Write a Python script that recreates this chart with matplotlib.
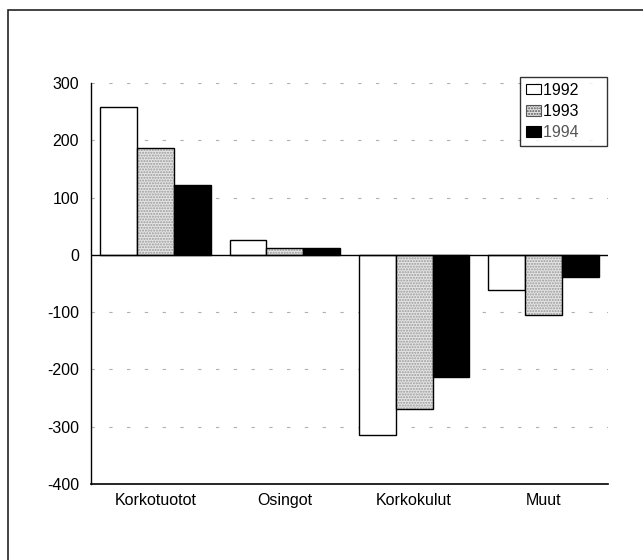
import numpy as np
import matplotlib.pyplot as plt
from matplotlib.patches import Rectangle

plt.rcParams['font.family'] = ['Liberation Sans', 'DejaVu Sans']
plt.rcParams['axes.unicode_minus'] = False

# data
categories = ["Korkotuotot", "Osingot", "Korkokulut", "Muut"]
years = ["1992", "1993", "1994"]
v1992 = [258, 26, -314, -61]
v1993 = [187, 12, -269, -105]
v1994 = [122, 12, -213, -38]
yticks = [-400, -300, -200, -100, 0, 100, 200, 300]

fig = plt.figure(figsize=(6.43, 5.6), dpi=100)
ax = fig.add_axes([0.1415, 0.1357, 0.8041, 0.7161])

# outer frame of the page
fig.patches.append(Rectangle((8 / 643, -0.05), 1.0, 1 - 10 / 560 + 0.05,
                             transform=fig.transFigure, fill=False,
                             edgecolor="#222222", linewidth=1.2))

x = np.arange(len(categories))
w = 0.285
offs = [-w, 0, w]

ax.bar(x + offs[0], v1992, w, color="white", edgecolor="black", linewidth=1.0, zorder=3)
# dotted grey fill for 1993, then outline on top
ax.bar(x + offs[1], v1993, w, color="#e4e4e4", edgecolor="#9a9a9a", hatch="......",
       linewidth=0, zorder=3)
ax.bar(x + offs[1], v1993, w, fill=False, edgecolor="black", linewidth=1.0, zorder=4)
ax.bar(x + offs[2], v1994, w, color="black", edgecolor="black", linewidth=1.0, zorder=3)

ax.axhline(0, color="black", linewidth=1.0, zorder=5)
for t in yticks:
    if t not in (0, -400):
        ax.axhline(t, color="#b0b0b0", linewidth=0.8, linestyle=(0, (3, 13)), zorder=1)

ax.set_xlim(-0.5, 3.5)
ax.set_ylim(-400, 300)
ax.set_yticks(yticks)
ax.set_xticks(x)
ax.set_xticklabels(categories)
ax.tick_params(length=0)
ax.tick_params(axis="y", pad=8.5, labelsize=11.5)
ax.tick_params(axis="x", pad=6.5, labelsize=11.5)
for s in ["top", "right"]:
    ax.spines[s].set_visible(False)
ax.spines["left"].set_linewidth(1.0)
ax.spines["bottom"].set_linewidth(1.2)

# legend
h1 = Rectangle((0, 0), 1, 1, facecolor="white", edgecolor="black", linewidth=0.8)
h2 = Rectangle((0, 0), 1, 1, facecolor="#e4e4e4", edgecolor="#555555",
               hatch="......", linewidth=0.8)
h3 = Rectangle((0, 0), 1, 1, facecolor="black", edgecolor="black", linewidth=0.8)
leg = ax.legend([h1, h2, h3], [y + "     " for y in years], loc="upper right",
                bbox_to_anchor=(0.998, 1.015),
                fontsize=11.5, frameon=True, fancybox=False, handlelength=0.95,
                handleheight=0.65, handletextpad=0.15, borderpad=0.35,
                labelspacing=0.4, borderaxespad=0)
leg.get_frame().set_edgecolor("black")
leg.get_frame().set_linewidth(1.0)
leg.get_texts()[2].set_color("#555555")

plt.savefig("out.png", dpi=100)
